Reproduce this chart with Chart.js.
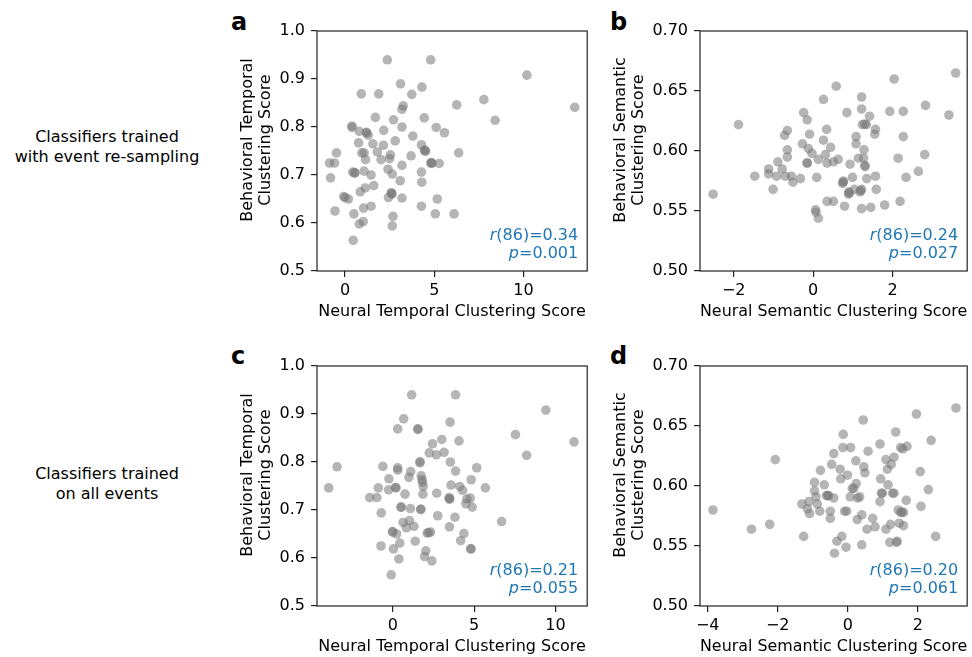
<!DOCTYPE html>
<html lang="en">
<head>
  <meta charset="UTF-8" />
  <title>Behavioral vs Neural Clustering Scores</title>
  <script src="https://cdn.jsdelivr.net/npm/chart.js"></script>
  <style>
    html, body { margin: 0; padding: 0; background: #fff; overflow: hidden; }
    body { width: 972px; height: 657px; position: relative; font-family: "DejaVu Sans", sans-serif; }
    canvas { position: absolute; }
    .row-label { position: absolute; left: 0; width: 214px; text-align: center; font-size: 16px; line-height: 20px; color: #000; }
    .letter { position: absolute; font-size: 24px; font-weight: bold; line-height: 1; color: #000; }
  </style>
</head>
<body>

  <div class="row-label" style="top:127px">Classifiers trained<br>with event re-sampling</div>
  <div class="row-label" style="top:464px">Classifiers trained<br>on all events</div>

  <div class="letter" style="left:231px; top:10px">a</div>
  <div class="letter" style="left:610px; top:10px">b</div>
  <div class="letter" style="left:231px; top:344px">c</div>
  <div class="letter" style="left:610px; top:344px">d</div>

  <canvas id="chartA" width="367" height="323" style="left:225px; top:0px"></canvas>
  <canvas id="chartB" width="367" height="323" style="left:605px; top:0px"></canvas>
  <canvas id="chartC" width="367" height="323" style="left:225px; top:335px"></canvas>
  <canvas id="chartD" width="367" height="323" style="left:605px; top:335px"></canvas>

  <script>
    // points: [neural score, behavioral score]
    const ptsA = [[2.37,0.940],[4.80,0.940],[10.19,0.908],[3.11,0.890],[4.31,0.883],[0.91,0.869],[1.89,0.869],[3.74,0.868],[7.78,0.857],[6.26,0.846],[12.87,0.841],[3.26,0.844],[3.19,0.837],[1.70,0.820],[2.72,0.815],[4.44,0.819],[8.41,0.814],[0.39,0.802],[0.39,0.799],[3.19,0.800],[5.11,0.799],[5.57,0.788],[0.80,0.791],[2.17,0.793],[1.20,0.788],[1.30,0.783],[3.80,0.781],[0.76,0.767],[1.56,0.765],[2.15,0.762],[2.81,0.771],[4.28,0.763],[4.48,0.752],[4.52,0.749],[-0.48,0.746],[6.37,0.746],[0.94,0.746],[1.07,0.746],[1.81,0.748],[2.54,0.742],[3.70,0.740],[1.15,0.732],[2.02,0.732],[2.50,0.734],[-0.87,0.725],[-0.59,0.725],[4.81,0.725],[4.87,0.724],[5.28,0.724],[3.19,0.720],[2.41,0.712],[0.43,0.706],[0.56,0.704],[1.07,0.708],[1.46,0.700],[4.28,0.706],[2.65,0.702],[-0.81,0.694],[3.09,0.688],[4.30,0.685],[1.61,0.678],[1.13,0.673],[0.85,0.665],[2.59,0.663],[2.63,0.660],[2.43,0.653],[-0.07,0.655],[0.19,0.650],[3.19,0.652],[5.17,0.650],[4.28,0.635],[1.46,0.635],[1.04,0.631],[-0.56,0.625],[0.50,0.619],[5.06,0.619],[6.11,0.619],[2.69,0.614],[1.02,0.603],[0.80,0.598],[2.65,0.594],[0.46,0.564],[0.54,0.705],[1.20,0.789],[4.45,0.751],[4.84,0.726],[2.61,0.662],[0.00,0.653]];
    const ptsB = [[-2.52,0.564],[-1.88,0.622],[-1.47,0.579],[-1.01,0.568],[-1.12,0.585],[-1.12,0.581],[-0.89,0.591],[-0.92,0.579],[-0.78,0.585],[-0.70,0.579],[-0.55,0.579],[-0.51,0.574],[-0.32,0.577],[-0.65,0.601],[-0.65,0.595],[-0.72,0.613],[-0.65,0.617],[-0.27,0.606],[-0.24,0.632],[-0.15,0.626],[-0.09,0.614],[-0.12,0.602],[-0.03,0.598],[-0.15,0.590],[-0.15,0.590],[0.09,0.578],[0.13,0.593],[0.26,0.609],[0.26,0.643],[0.34,0.618],[0.31,0.597],[0.44,0.603],[0.35,0.590],[0.51,0.591],[0.63,0.593],[0.06,0.551],[0.07,0.549],[0.13,0.544],[0.35,0.558],[0.51,0.558],[0.58,0.654],[0.85,0.632],[0.79,0.554],[0.93,0.589],[0.99,0.578],[0.76,0.575],[0.74,0.573],[0.90,0.566],[0.89,0.564],[1.04,0.568],[1.08,0.612],[1.08,0.606],[1.14,0.594],[1.22,0.645],[1.22,0.635],[1.22,0.568],[1.18,0.566],[1.22,0.552],[1.28,0.601],[1.27,0.594],[1.30,0.588],[1.31,0.587],[1.35,0.577],[1.24,0.622],[1.34,0.622],[1.42,0.629],[1.57,0.618],[1.55,0.614],[1.57,0.579],[1.59,0.568],[1.45,0.553],[1.80,0.555],[1.93,0.633],[2.04,0.660],[2.27,0.633],[2.27,0.612],[2.14,0.594],[2.34,0.578],[2.19,0.558],[2.65,0.583],[2.81,0.597],[2.83,0.638],[3.42,0.630],[3.59,0.665],[1.30,0.6225],[0.76,0.574],[0.91,0.565],[1.20,0.567]];
    const ptsC = [[1.16,0.940],[3.86,0.940],[9.41,0.908],[0.67,0.890],[3.52,0.883],[0.30,0.869],[1.54,0.869],[1.54,0.868],[7.54,0.857],[3.01,0.847],[4.07,0.844],[2.44,0.838],[11.14,0.842],[2.24,0.819],[2.68,0.815],[3.15,0.820],[8.23,0.814],[1.67,0.801],[1.67,0.798],[3.54,0.800],[-3.43,0.790],[-0.61,0.791],[0.30,0.788],[0.30,0.783],[1.10,0.780],[3.86,0.781],[5.16,0.788],[-0.24,0.765],[0.99,0.768],[1.75,0.771],[1.79,0.763],[1.83,0.758],[1.87,0.749],[4.82,0.763],[-3.94,0.746],[-0.89,0.746],[-0.26,0.742],[0.16,0.747],[0.20,0.746],[3.58,0.752],[4.11,0.749],[4.29,0.741],[5.69,0.746],[-1.42,0.726],[-0.98,0.726],[0.75,0.733],[1.85,0.733],[2.70,0.735],[3.46,0.726],[3.48,0.722],[4.55,0.723],[4.76,0.725],[4.49,0.713],[4.88,0.706],[0.49,0.706],[0.53,0.706],[1.08,0.703],[1.71,0.701],[1.73,0.702],[-0.71,0.694],[2.76,0.688],[3.82,0.685],[6.69,0.676],[1.02,0.678],[0.63,0.674],[0.83,0.663],[1.30,0.666],[3.48,0.665],[-0.02,0.655],[0.24,0.650],[2.11,0.652],[2.32,0.654],[4.37,0.651],[1.38,0.635],[4.17,0.636],[0.43,0.631],[-0.73,0.625],[0.04,0.619],[4.78,0.619],[4.82,0.619],[2.03,0.615],[1.95,0.603],[2.40,0.594],[0.37,0.598],[-0.10,0.565],[0.00,0.654],[2.20,0.653],[3.50,0.724]];
    const ptsD = [[-3.85,0.580],[-2.75,0.564],[-2.23,0.568],[-2.07,0.622],[-1.26,0.558],[-1.31,0.585],[-1.15,0.581],[-1.09,0.577],[-1.11,0.587],[-0.95,0.603],[-0.95,0.596],[-0.91,0.591],[-0.87,0.585],[-0.80,0.579],[-0.78,0.613],[-0.67,0.601],[-0.61,0.592],[-0.55,0.592],[-0.40,0.590],[-0.46,0.618],[-0.40,0.627],[-0.50,0.579],[-0.50,0.573],[-0.31,0.554],[-0.17,0.558],[-0.38,0.544],[-0.05,0.549],[-0.22,0.614],[-0.20,0.606],[-0.01,0.609],[-0.13,0.643],[-0.14,0.632],[0.08,0.632],[-0.09,0.579],[-0.03,0.579],[0.13,0.598],[0.17,0.598],[0.24,0.602],[0.07,0.591],[0.28,0.590],[0.34,0.591],[0.23,0.621],[0.40,0.576],[0.27,0.572],[0.40,0.551],[0.44,0.655],[0.46,0.616],[0.49,0.611],[0.58,0.629],[0.55,0.564],[0.71,0.573],[0.78,0.566],[0.92,0.635],[0.94,0.606],[0.92,0.587],[0.96,0.594],[1.09,0.622],[1.13,0.614],[1.15,0.601],[1.24,0.618],[1.32,0.624],[1.09,0.564],[1.22,0.568],[1.20,0.553],[1.41,0.554],[1.37,0.645],[1.28,0.594],[1.32,0.594],[1.51,0.632],[1.57,0.631],[1.69,0.633],[1.44,0.580],[1.51,0.578],[1.59,0.578],[1.67,0.588],[1.47,0.569],[1.59,0.567],[1.96,0.660],[2.07,0.612],[2.09,0.583],[2.30,0.597],[2.38,0.638],[2.51,0.558],[3.09,0.665],[1.39,0.553],[0.99,0.594],[-0.57,0.592],[1.55,0.578]];

    // axis ranges and ticks
    const xRangeA = [-1.57, 13.57], xRangeB = [-2.85, 3.88], xRangeC = [-4.66, 11.95], xRangeD = [-4.22, 3.41];
    const xTicksA = [0, 5, 10], xTicksB = [-2, 0, 2], xTicksC = [0, 5, 10], xTicksD = [-4, -2, 0, 2];
    const yRangeTemporal = [0.5, 1.0], yRangeSemantic = [0.5, 0.7];
    const yTicksTemporal = [0.5, 0.6, 0.7, 0.8, 0.9, 1.0];
    const yTicksSemantic = [0.50, 0.55, 0.60, 0.65, 0.70];

    // labels and stats
    const xLabelTemporal = 'Neural Temporal Clustering Score';
    const xLabelSemantic = 'Neural Semantic Clustering Score';
    const yLabelTemporal = ['Behavioral Temporal', 'Clustering Score'];
    const yLabelSemantic = ['Behavioral Semantic', 'Clustering Score'];
    const statsR = ['0.34', '0.24', '0.21', '0.20'];
    const statsP = ['0.001', '0.027', '0.055', '0.061'];

    const FONT = '"DejaVu Sans"';
    Chart.defaults.font.family = FONT;
    Chart.defaults.font.size = 16;
    Chart.defaults.color = '#000';

    const fmtX = v => (v < 0 ? '\u2212' + Math.abs(v) : String(v));

    // frame, rotated y label, and the r / p text
    const panelDeco = {
      id: 'panelDeco',
      afterDraw(chart, args, o) {
        const { ctx, chartArea: a } = chart;
        ctx.save();
        ctx.strokeStyle = '#222';
        ctx.lineWidth = 1.2;
        ctx.strokeRect(a.left, a.top, a.right - a.left, a.bottom - a.top);

        ctx.fillStyle = '#000';
        ctx.font = '16px ' + FONT;
        ctx.textAlign = 'center';
        ctx.textBaseline = 'middle';
        o.ylab.forEach((t, i) => {
          ctx.save();
          ctx.translate(o.ylabX + i * 17.5, o.ylabY);
          ctx.rotate(-Math.PI / 2);
          ctx.fillText(t, 0, 0);
          ctx.restore();
        });

        ctx.fillStyle = '#1f77b4';
        ctx.textAlign = 'left';
        ctx.textBaseline = 'alphabetic';
        [['r', '(86)=' + o.r], ['p', '=' + o.p]].forEach(([it, rest], i) => {
          ctx.font = '16px ' + FONT;
          const w2 = ctx.measureText(rest).width;
          ctx.font = 'italic 16px ' + FONT;
          const w1 = ctx.measureText(it).width;
          const x0 = a.right - 9 - w1 - w2;
          const y = a.bottom - 31 + i * 18;
          ctx.fillText(it, x0, y);
          ctx.font = '16px ' + FONT;
          ctx.fillText(rest, x0 + w1, y);
        });
        ctx.restore();
      }
    };

    function makePanel(id, pts, xr, xt, yr, yt, yDec, xLabel, yLabel, yAxisW, ylabX, r, p) {
      return new Chart(document.getElementById(id), {
        type: 'scatter',
        data: {
          datasets: [{
            data: pts.map(([x, y]) => ({ x, y })),
            backgroundColor: 'rgba(120,120,120,0.55)',
            borderWidth: 0,
            pointRadius: 4.8
          }]
        },
        options: {
          responsive: false,
          animation: false,
          events: [],
          layout: { padding: { left: 0, top: 31, right: id === 'chartA' || id === 'chartC' ? 2 : 1.5, bottom: 0 } },
          plugins: {
            legend: { display: false },
            tooltip: { enabled: false },
            panelDeco: { ylab: yLabel, ylabX: ylabX, ylabY: 140, r: r, p: p }
          },
          scales: {
            x: {
              type: 'linear', min: xr[0], max: xr[1],
              afterBuildTicks: s => { s.ticks = xt.map(v => ({ value: v })); },
              afterFit: s => { s.height = 52; },
              grid: { drawOnChartArea: false, drawTicks: true, tickLength: 6, color: '#222', lineWidth: 1.2 },
              border: { display: false },
              ticks: { padding: 4, maxRotation: 0, autoSkip: false, callback: v => fmtX(v) },
              title: { display: true, text: xLabel, padding: { top: 0, bottom: 2 } }
            },
            y: {
              type: 'linear', min: yr[0], max: yr[1],
              afterBuildTicks: s => { s.ticks = yt.map(v => ({ value: v })); },
              afterFit: s => { s.width = yAxisW; },
              grid: { drawOnChartArea: false, drawTicks: true, tickLength: 6, color: '#222', lineWidth: 1.2 },
              border: { display: false },
              ticks: { padding: 6, autoSkip: false, callback: v => v.toFixed(yDec) }
            }
          }
        },
        plugins: [panelDeco]
      });
    }

    makePanel('chartA', ptsA, xRangeA, xTicksA, yRangeTemporal, yTicksTemporal, 1, xLabelTemporal, yLabelTemporal, 92, 23, statsR[0], statsP[0]);
    makePanel('chartB', ptsB, xRangeB, xTicksB, yRangeSemantic, yTicksSemantic, 2, xLabelSemantic, yLabelSemantic, 95, 16, statsR[1], statsP[1]);
    makePanel('chartC', ptsC, xRangeC, xTicksC, yRangeTemporal, yTicksTemporal, 1, xLabelTemporal, yLabelTemporal, 92, 23, statsR[2], statsP[2]);
    makePanel('chartD', ptsD, xRangeD, xTicksD, yRangeSemantic, yTicksSemantic, 2, xLabelSemantic, yLabelSemantic, 95, 16, statsR[3], statsP[3]);
  </script>

</body>
</html>
